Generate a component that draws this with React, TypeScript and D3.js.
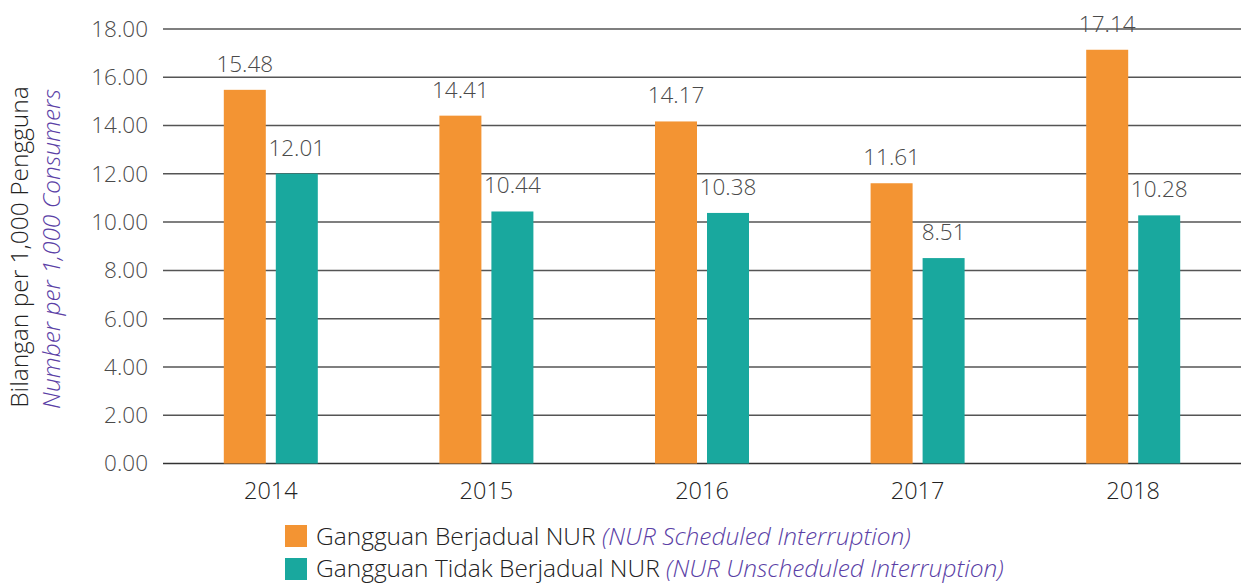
import * as d3 from 'd3';

const years = ['2014', '2015', '2016', '2017', '2018'];
const scheduled = [15.48, 14.41, 14.17, 11.61, 17.14];
const unscheduled = [12.01, 10.44, 10.38, 8.51, 10.28];
const yTicks = [0, 2, 4, 6, 8, 10, 12, 14, 16, 18];

const W = 1241;
const H = 584;
const margin = { top: 29, right: 0, bottom: 120, left: 163 };
const orange = '#F39433';
const teal = '#19A89E';
const purple = '#5B3FA6';
const textColor = '#4a4a4a';
const font = '"Open Sans", Lato, sans-serif';

export default function App() {
  const innerW = W - margin.left - margin.right;
  const innerH = H - margin.top - margin.bottom - 0.5;

  const x = d3.scaleBand<string>().domain(years).range([0, innerW]).paddingInner(0).paddingOuter(0);
  const y = d3.scaleLinear().domain([0, 18]).range([innerH, 0]);
  const barW = 42;
  const gap = 10;

  const series = [
    { values: scheduled, color: orange, offset: -gap / 2 - barW },
    { values: unscheduled, color: teal, offset: gap / 2 },
  ];

  return (
    <svg
      width={W}
      height={H}
      style={{ position: 'absolute', left: 0, top: 0 }}
      fontFamily={font}
      fontWeight={300}
    >
      <rect width={W} height={H} fill="#fff" />
      <g transform={`translate(${margin.left},${margin.top})`}>
        {yTicks.map((t) => (
          <g key={t}>
            <line x1={0} x2={innerW} y1={y(t)} y2={y(t)} stroke={t === 0 ? '#333' : '#555'} strokeWidth={1.5} />
            <text x={-15} y={y(t)} dy="0.35em" textAnchor="end" fontSize={22.5} fill={textColor}>
              {t.toFixed(2)}
            </text>
          </g>
        ))}
        {series.map((s, si) =>
          years.map((yr, i) => {
            const cx = (x(yr) as number) + x.bandwidth() / 2;
            const bx = cx + s.offset;
            return (
              <g key={`${si}-${yr}`}>
                <rect x={bx} y={y(s.values[i])} width={barW} height={innerH - y(s.values[i])} fill={s.color} />
                <text x={bx + barW / 2} y={y(s.values[i]) - 18} textAnchor="middle" fontSize={22.5} fill={textColor}>
                  {s.values[i].toFixed(2)}
                </text>
              </g>
            );
          })
        )}
        {years.map((yr) => (
          <text
            key={yr}
            x={(x(yr) as number) + x.bandwidth() / 2}
            y={innerH + 35}
            textAnchor="middle"
            fontSize={23.5}
            fill="#222"
          >
            {yr}
          </text>
        ))}
      </g>
      <text transform="translate(28,247) rotate(-90)" textAnchor="middle" fontSize={24.5} fill="#222">
        Bilangan per 1,000 Pengguna
      </text>
      <text
        transform="translate(60,249) rotate(-90)"
        textAnchor="middle"
        fontSize={24.5}
        fill={purple}
        fontStyle="italic"
      >
        Number per 1,000 Consumers
      </text>
      <g transform="translate(285,525)">
        <rect x={0} y={0} width={22} height={22} fill={orange} />
        <text x={31} y={11} dy="0.35em" fontSize={24.5} fill="#222">
          Gangguan Berjadual NUR{' '}
          <tspan fill={purple} fontStyle="italic">
            (NUR Scheduled Interruption)
          </tspan>
        </text>
        <rect x={0} y={33} width={22} height={22} fill={teal} />
        <text x={31} y={43} dy="0.35em" fontSize={24.5} fill="#222">
          Gangguan Tidak Berjadual NUR{' '}
          <tspan fill={purple} fontStyle="italic">
            (NUR Unscheduled Interruption)
          </tspan>
        </text>
      </g>
    </svg>
  );
}
